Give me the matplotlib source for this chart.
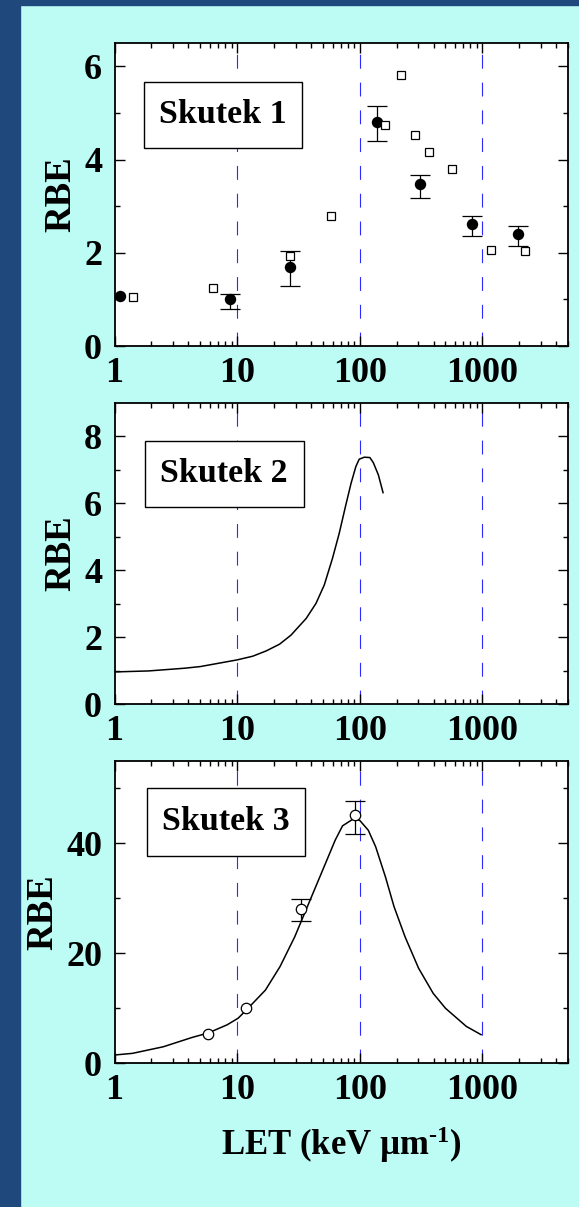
import numpy as np
import matplotlib
matplotlib.use("Agg")
import matplotlib.pyplot as plt
from matplotlib.patches import Rectangle
from matplotlib.ticker import FixedLocator, FixedFormatter, LogLocator, NullFormatter

# Skutek 1: filled circles with error bars, open squares from a second data set
s1_let = [1.1, 8.8, 27, 139, 313, 818, 1942]
s1_rbe = [1.07, 1.00, 1.69, 4.81, 3.47, 2.62, 2.41]
s1_low = [np.nan, 0.80, 1.28, 4.39, 3.18, 2.36, 2.14]
s1_high = [np.nan, 1.12, 2.03, 5.14, 3.68, 2.78, 2.57]

s1_sq_let = [1.41, 6.3, 27, 58, 160, 218, 284, 367, 567, 1172, 2215]
s1_sq_rbe = [1.05, 1.24, 1.94, 2.78, 4.75, 5.81, 4.53, 4.17, 3.79, 2.06, 2.04]

# Skutek 2: single curve
s2_let = [1, 1.9, 3.7, 5, 10, 13.4, 17.3, 22.2, 27.5, 36.6, 44, 51.4, 60, 68,
          77, 85, 93, 99, 109, 121, 129, 142, 155]
s2_rbe = [0.96, 0.99, 1.07, 1.12, 1.32, 1.43, 1.59, 1.79, 2.06, 2.56, 3.01,
          3.56, 4.36, 5.10, 5.95, 6.60, 7.10, 7.32, 7.38, 7.37, 7.22, 6.85, 6.32]

# Skutek 3: curve plus open circles
s3_curve_let = [1, 1.4, 2.5, 4.3, 5.8, 8.3, 10.2, 11.9, 17, 22.4, 29.5, 38.9,
                51.3, 63.1, 72.4, 89.1, 100, 117.5, 134.9, 162.2, 190.5, 234.4,
                302, 398, 501, 741, 977]
s3_curve_rbe = [1.5, 1.8, 3.0, 4.7, 5.5, 7.0, 8.2, 9.7, 13.3, 17.6, 23.0, 29.4,
                35.8, 40.6, 43.2, 44.5, 44.2, 42.4, 39.4, 33.9, 28.5, 23.0,
                17.3, 12.7, 10.0, 6.7, 5.2]
s3_let = [5.75, 11.9, 32.9, 91.4]
s3_rbe = [5.27, 10.1, 28.1, 45.2]
s3_low = [np.nan, np.nan, 25.9, 41.8]
s3_high = [np.nan, np.nan, 29.8, 47.8]

x_ticks = [1, 10, 100, 1000]
x_tick_labels = ["1", "10", "100", "1000"]
guide_lines = [10, 100, 1000]

BG = "#bcfcf5"
FRAME = "#1f497c"
TICK_FS = 26
LABEL_FS = 26.5
BOX_FS = 24.5

plt.rcParams["font.family"] = ["Liberation Serif", "DejaVu Serif"]
plt.rcParams["font.weight"] = "bold"
plt.rcParams["mathtext.fontset"] = "custom"
plt.rcParams["mathtext.rm"] = "Liberation Serif:bold"
plt.rcParams["mathtext.bf"] = "Liberation Serif:bold"
plt.rcParams["mathtext.it"] = "Liberation Serif:bold"
plt.rcParams["lines.scale_dashes"] = False


def setup_axes(ax, ymax, ymajor, yminor):
    ax.set_xscale("log")
    ax.set_xlim(1, 5000)
    ax.set_ylim(0, ymax)
    ax.xaxis.set_major_locator(FixedLocator(x_ticks))
    ax.xaxis.set_major_formatter(FixedFormatter(x_tick_labels))
    ax.xaxis.set_minor_locator(LogLocator(base=10, subs=np.arange(2, 10)))
    ax.xaxis.set_minor_formatter(NullFormatter())
    ax.set_yticks(ymajor)
    ax.set_yticks(yminor, minor=True)
    ax.tick_params(which="both", direction="in", top=True, right=True, width=1.0)
    ax.tick_params(which="major", length=7.5, labelsize=TICK_FS)
    ax.tick_params(which="minor", length=3.5)
    ax.tick_params(axis="x", which="major", pad=8)
    ax.tick_params(axis="y", which="major", pad=9)
    for sp in ax.spines.values():
        sp.set_linewidth(1.3)
    for x in guide_lines:
        ax.axvline(x, color="#2b2bff", lw=0.8, dashes=(10, 10), zorder=1)
    ax.set_ylabel("RBE", fontsize=LABEL_FS, fontweight="bold")


def label_box(ax, text, x0, y0, x1, y1):
    ax.add_patch(Rectangle((x0, y0), x1 - x0, y1 - y0, transform=ax.transAxes,
                           facecolor="white", edgecolor="black", lw=1.0, zorder=5))
    ax.text((x0 + x1) / 2, (y0 + y1) / 2, text, transform=ax.transAxes,
            ha="center", va="center", fontsize=BOX_FS, fontweight="bold", zorder=6)


def error_bars(ax, x, y, low, high, cap):
    x = np.array(x)
    y = np.array(y)
    low = np.array(low)
    high = np.array(high)
    m = ~np.isnan(low)
    yerr = [y[m] - low[m], high[m] - y[m]]
    ax.errorbar(x[m], y[m], yerr=yerr, fmt="none", ecolor="black",
                elinewidth=0.9, capsize=cap, capthick=0.9, zorder=3)


fig = plt.figure(figsize=(5.79, 12.07), dpi=100, facecolor=BG)
fig.add_artist(Rectangle((0, 0), 20 / 579, 1, transform=fig.transFigure,
                         color=FRAME, zorder=0))
fig.add_artist(Rectangle((0, 1 - 5 / 1207), 1, 5 / 1207, transform=fig.transFigure,
                         color=FRAME, zorder=0))

left, width = 0.1978, 0.7832
ax1 = fig.add_axes([left, 0.7133, width, 0.2510])
ax2 = fig.add_axes([left, 0.4167, width, 0.2494])
ax3 = fig.add_axes([left, 0.1191, width, 0.2504])

# Skutek 1
setup_axes(ax1, 6.5, [0, 2, 4, 6], [1, 3, 5])
error_bars(ax1, s1_let, s1_rbe, s1_low, s1_high, 7.5)
ax1.plot(s1_let, s1_rbe, "o", color="black", ms=7.2, zorder=4)
ax1.plot(s1_sq_let, s1_sq_rbe, "s", mfc="white", mec="black", mew=0.9,
         ms=6.3, zorder=4)
label_box(ax1, "Skutek 1", 0.065, 0.653, 0.413, 0.873)

# Skutek 2
setup_axes(ax2, 9, [0, 2, 4, 6, 8], [1, 3, 5, 7])
ax2.plot(s2_let, s2_rbe, color="black", lw=1.1, zorder=3)
label_box(ax2, "Skutek 2", 0.067, 0.655, 0.417, 0.875)

# Skutek 3
setup_axes(ax3, 55, [0, 20, 40], [10, 30, 50])
ax3.plot(s3_curve_let, s3_curve_rbe, color="black", lw=1.1, zorder=3)
error_bars(ax3, s3_let, s3_rbe, s3_low, s3_high, 7.5)
ax3.plot(s3_let, s3_rbe, "o", mfc="white", mec="black", mew=0.9, ms=7.5, zorder=4)
label_box(ax3, "Skutek 3", 0.072, 0.686, 0.421, 0.911)
ax3.set_xlabel(r"LET (keV µm$^{\text{-1}}$)", fontsize=25, fontweight="bold",
               labelpad=12)

fig.savefig("out.png", dpi=100, facecolor=BG)
